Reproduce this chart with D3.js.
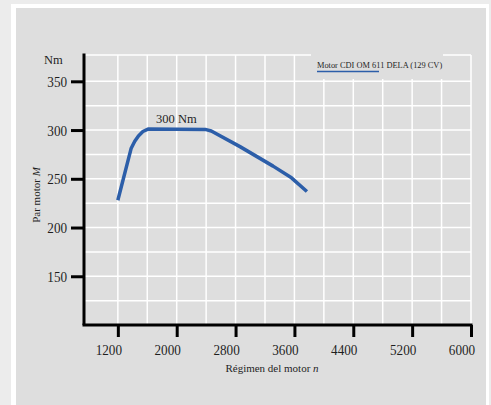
<!DOCTYPE html>
<html>
<head>
<meta charset="utf-8">
<script src="https://cdn.jsdelivr.net/npm/d3@7"></script>
<style>
  html, body { margin: 0; padding: 0; background: #ececec; }
  svg { display: block; }
  text { font-family: "Liberation Serif", "DejaVu Serif", serif; fill: #1e1e1e; }
</style>
</head>
<body>
<svg id="chart" width="491" height="405"></svg>
<script>
// engine speed (rpm) and torque (Nm)
const rpm = [1200, 1380, 1430, 1480, 1540, 1610, 2400, 2470, 2860, 3310, 3560, 3770];
const torque = [228, 281, 288.5, 294, 298.5, 301, 300.5, 299, 283, 263, 251, 237];
const xTicks = [1200, 2000, 2800, 3600, 4400, 5200, 6000];
const yTicks = [150, 200, 250, 300, 350];
const xGrid = d3.range(1200, 6001, 400);
const yGrid = d3.range(125, 351, 25);
const legendLabel = "Motor CDI OM 611 DELA (129 CV)";

const svg = d3.select("#chart");

// frame
svg.append("rect").attr("x", 11).attr("y", 4).attr("width", 478).attr("height", 402).attr("fill", "#fff");
svg.append("rect").attr("x", 16).attr("y", 8).attr("width", 470).attr("height", 397).attr("fill", "#dedede");

const x = d3.scaleLinear().domain([740, 6000]).range([84, 471]);
const y = d3.scaleLinear().domain([100, 377]).range([325, 55]);

// grid
const grid = svg.append("g").attr("stroke", "#fff").attr("stroke-width", 1.5);
grid.selectAll(".v").data(xGrid).join("line")
  .attr("x1", d => x(d)).attr("x2", d => x(d))
  .attr("y1", y.range()[1]).attr("y2", y.range()[0]);
grid.selectAll(".h").data(yGrid.concat([377])).join("line")
  .attr("x1", x.range()[0]).attr("x2", x.range()[1])
  .attr("y1", d => y(d)).attr("y2", d => y(d));

// legend box covers the grid
svg.append("rect").attr("x", 311).attr("y", 54).attr("width", 132).attr("height", 25).attr("fill", "#dedede");
svg.append("text").attr("x", 317).attr("y", 68).attr("font-size", 9)
  .attr("transform", "translate(317,0) scale(0.93,1) translate(-317,0)").text(legendLabel);
svg.append("line").attr("x1", 317).attr("x2", 379).attr("y1", 71.5).attr("y2", 71.5)
  .attr("stroke", "#2c5ea9").attr("stroke-width", 1.6);

// axes
const xAxis = svg.append("g").attr("transform", "translate(0,325)")
  .call(d3.axisBottom(x).tickValues(xTicks).tickFormat(d3.format("d"))
    .tickSize(12).tickSizeOuter(0).tickPadding(7));
const yAxis = svg.append("g").attr("transform", "translate(84,0)")
  .call(d3.axisLeft(y).tickValues(yTicks).tickSize(13).tickSizeOuter(0).tickPadding(3));
[xAxis, yAxis].forEach(g => {
  g.select(".domain").attr("stroke", "#000").attr("stroke-width", 3);
  g.selectAll(".tick line").attr("stroke", "#000").attr("stroke-width", 3);
  g.selectAll(".tick text").attr("font-size", 15.5).attr("fill", "#1e1e1e")
    .attr("font-family", "Liberation Serif");
});
// condensed look of the printed figure; x labels sit a little left of their ticks
xAxis.selectAll(".tick text").attr("transform", "translate(-9.5,0) scale(0.85,1)");
yAxis.selectAll(".tick text").attr("x", -17).attr("transform", "translate(-16.5,0) scale(0.85,1) translate(16.5,0)");
yAxis.select(".domain").attr("d", "M0,325V53.5");
xAxis.select(".domain").attr("d", "M" + (x.range()[0] - 1.5) + ",0H" + (x.range()[1] + 1.5));

// curve
svg.append("path")
  .datum(rpm.map((r, i) => [r, torque[i]]))
  .attr("fill", "none")
  .attr("stroke", "#2c5ea9")
  .attr("stroke-width", 3.5)
  .attr("stroke-linejoin", "round")
  .attr("d", d3.line().x(d => x(d[0])).y(d => y(d[1])));

svg.append("text").attr("x", 156).attr("y", 123).attr("font-size", 12.5).text("300 Nm");

// axis titles
svg.append("text").attr("x", 44).attr("y", 64).attr("font-size", 12.5).text("Nm");
const yt = svg.append("text").attr("transform", "translate(40,195) rotate(-90)")
  .attr("text-anchor", "middle").attr("font-size", 11);
yt.append("tspan").text("Par motor ");
yt.append("tspan").attr("font-style", "italic").text("M");
const xt = svg.append("text").attr("x", 272).attr("y", 372)
  .attr("text-anchor", "middle").attr("font-size", 11);
xt.append("tspan").text("Régimen del motor ");
xt.append("tspan").attr("font-style", "italic").text("n");
</script>
</body>
</html>
